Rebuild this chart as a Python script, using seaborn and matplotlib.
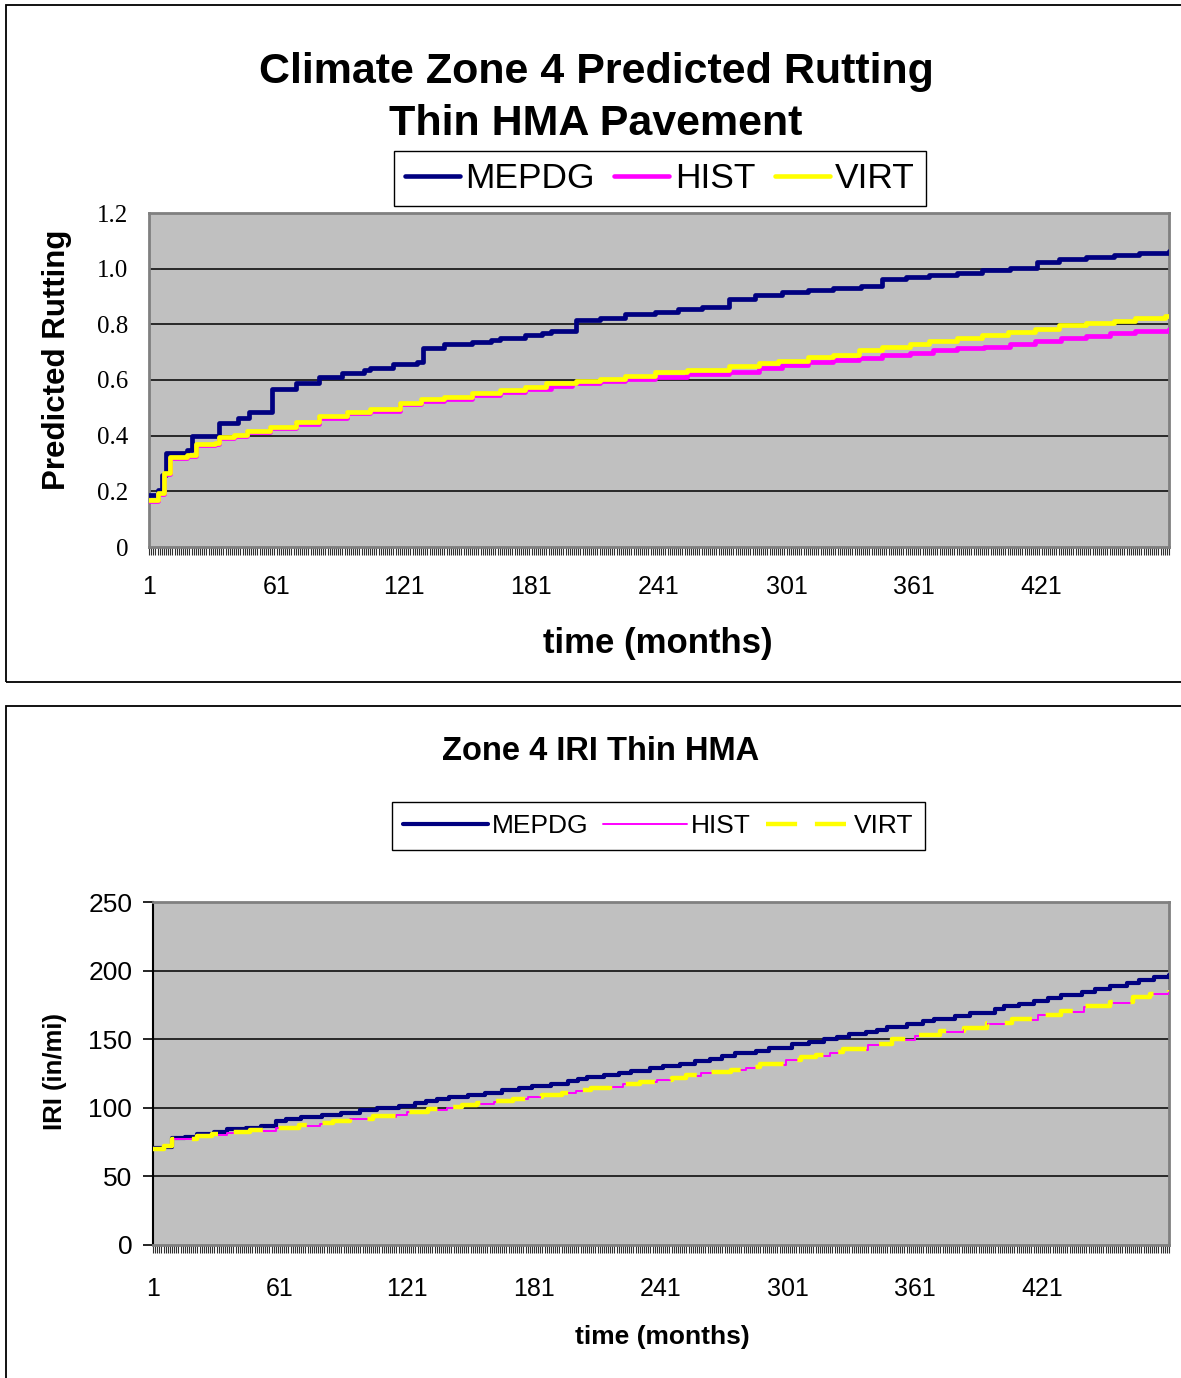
import numpy as np
import pandas as pd
import matplotlib
matplotlib.use("Agg")
import matplotlib.pyplot as plt
import seaborn as sns
from matplotlib.patches import Rectangle
from matplotlib.lines import Line2D

sns.set_style("white")
plt.rcParams['font.family'] = ['Liberation Sans', 'DejaVu Sans']
plt.rcParams['text.color'] = 'black'
plt.rcParams['axes.labelcolor'] = 'black'
plt.rcParams['xtick.color'] = 'black'
plt.rcParams['ytick.color'] = 'black'

# ---------------- data ----------------
series_names = ["MEPDG", "HIST", "VIRT"]
x_tick_months = [1, 61, 121, 181, 241, 301, 361, 421]
n_months = 481

# Rutting: step change points (month, value)
rut_mepdg_month = [1, 5, 7, 9, 19, 21, 34, 43, 48, 59, 70, 81, 92, 102, 105, 116, 127, 130, 140, 153,
                   162, 166, 178, 186, 190, 202, 213, 225, 239, 250, 261, 274, 286, 299, 311, 323,
                   336, 346, 357, 368, 381, 393, 406, 419, 429, 442, 455, 467, 481]
rut_mepdg_value = [0.187, 0.205, 0.26, 0.338, 0.349, 0.40, 0.445, 0.463, 0.486, 0.567, 0.59, 0.612,
                   0.626, 0.636, 0.643, 0.657, 0.663, 0.715, 0.729, 0.737, 0.745, 0.752, 0.761, 0.768,
                   0.776, 0.816, 0.824, 0.836, 0.846, 0.854, 0.862, 0.892, 0.906, 0.915, 0.923, 0.931,
                   0.939, 0.963, 0.970, 0.977, 0.986, 0.994, 1.001, 1.025, 1.034, 1.041, 1.049, 1.057,
                   1.062]

rut_hist_month = [1, 5, 8, 11, 19, 23, 32, 34, 41, 47, 58, 70, 81, 94, 105, 119, 129, 140, 153, 166,
                  178, 190, 200, 213, 225, 239, 254, 274, 288, 299, 311, 323, 335, 346, 359, 370, 381,
                  394, 406, 418, 430, 442, 453, 465, 481]
rut_hist_value = [0.167, 0.192, 0.262, 0.320, 0.328, 0.366, 0.370, 0.392, 0.398, 0.413, 0.428, 0.443,
                  0.465, 0.480, 0.490, 0.512, 0.524, 0.533, 0.547, 0.557, 0.568, 0.578, 0.588, 0.597,
                  0.604, 0.612, 0.622, 0.630, 0.644, 0.654, 0.664, 0.672, 0.678, 0.690, 0.698, 0.708,
                  0.714, 0.720, 0.729, 0.741, 0.750, 0.758, 0.768, 0.776, 0.783]

rut_virt_month = [1, 5, 8, 11, 19, 23, 32, 34, 41, 47, 58, 70, 81, 94, 105, 119, 129, 140, 153, 166,
                  178, 188, 202, 213, 225, 239, 254, 274, 288, 297, 311, 323, 335, 346, 359, 368, 381,
                  393, 405, 418, 429, 442, 455, 465, 479, 481]
rut_virt_value = [0.169, 0.194, 0.266, 0.323, 0.331, 0.370, 0.373, 0.396, 0.402, 0.417, 0.432, 0.448,
                  0.471, 0.486, 0.496, 0.519, 0.531, 0.540, 0.554, 0.564, 0.574, 0.588, 0.596, 0.605,
                  0.614, 0.628, 0.636, 0.652, 0.660, 0.670, 0.682, 0.690, 0.706, 0.720, 0.729, 0.739,
                  0.752, 0.763, 0.773, 0.783, 0.798, 0.806, 0.813, 0.822, 0.830, 0.830]

# IRI: step change points (month, value)
iri_mepdg_month = [1, 6, 10, 16, 22, 30, 36, 45, 52, 59, 64, 71, 81, 90, 99, 107, 117, 125, 130, 135,
                   141, 150, 158, 166, 174, 180, 189, 197, 202, 206, 214, 221, 227, 236, 242, 250, 257,
                   264, 270, 276, 286, 292, 303, 311, 318, 324, 330, 338, 343, 348, 357, 365, 370, 380,
                   387, 399, 403, 410, 417, 424, 430, 440, 446, 453, 461, 467, 474, 481]
iri_mepdg_value = [70.5, 71.7, 77.8, 78.9, 80.9, 82.6, 84.3, 85.5, 87.0, 90.6, 91.8, 93.3, 95.0, 96.4,
                   98.2, 99.6, 101.3, 103.3, 105.0, 106.4, 107.9, 109.3, 111.0, 112.7, 114.4, 115.9,
                   117.6, 119.3, 120.8, 122.2, 123.9, 125.6, 127.0, 128.8, 130.5, 132.2, 134.1, 135.8,
                   137.8, 139.7, 141.6, 143.4, 146.5, 148.2, 149.9, 151.8, 153.6, 155.2, 156.9, 158.7,
                   161.1, 163.0, 164.9, 166.9, 169.3, 172.0, 174.0, 175.9, 178.1, 180.3, 182.2, 184.6,
                   186.6, 188.8, 190.7, 193.1, 195.1, 196.8]

iri_hist_month = [1, 6, 10, 22, 29, 36, 47, 59, 70, 80, 86, 94, 105, 116, 121, 131, 140, 147, 154,
                  162, 171, 178, 185, 194, 201, 208, 217, 223, 231, 239, 246, 253, 260, 274, 281, 288,
                  300, 307, 314, 321, 327, 339, 350, 361, 373, 384, 395, 407, 419, 430, 441, 453, 464,
                  472, 481]
iri_hist_value = [69.8, 71.5, 77.0, 78.9, 80.2, 81.9, 83.3, 85.0, 86.7, 88.2, 89.9, 91.6, 93.3, 95.0,
                  96.7, 98.4, 99.9, 101.3, 102.8, 104.5, 106.2, 107.6, 108.8, 110.6, 112.5, 114.2,
                  115.4, 117.1, 118.6, 120.0, 121.5, 123.5, 125.6, 127.5, 129.3, 131.2, 134.8, 136.3,
                  138.0, 140.0, 142.1, 145.8, 149.4, 152.3, 155.5, 157.9, 161.1, 164.0, 167.6, 170.0,
                  173.7, 176.6, 180.5, 182.8, 185.3]

iri_virt_month = [1, 6, 10, 22, 29, 36, 47, 59, 70, 80, 86, 94, 105, 116, 121, 131, 140, 147, 154,
                  162, 171, 178, 185, 194, 201, 208, 217, 223, 231, 239, 246, 253, 260, 274, 281, 288,
                  300, 307, 314, 321, 327, 339, 350, 361, 373, 384, 395, 407, 419, 430, 441, 453, 464,
                  472, 481]
iri_virt_value = [70.2, 72.0, 77.5, 79.3, 80.6, 82.3, 83.7, 85.4, 87.1, 88.6, 90.3, 92.0, 93.7, 95.4,
                  97.1, 98.8, 100.3, 101.7, 103.2, 104.9, 106.6, 108.0, 109.2, 111.0, 112.9, 114.6,
                  115.8, 117.5, 119.0, 120.4, 121.9, 123.9, 126.0, 127.9, 129.7, 131.6, 135.2, 136.7,
                  138.4, 140.4, 142.5, 146.2, 149.8, 152.7, 155.9, 158.3, 161.5, 164.4, 168.0, 170.4,
                  174.1, 177.0, 180.9, 183.2, 185.7]

rut_y_ticks = [0, 0.2, 0.4, 0.6, 0.8, 1.0, 1.2]
rut_y_labels = ["0", "0.2", "0.4", "0.6", "0.8", "1.0", "1.2"]
iri_y_ticks = [0, 50, 100, 150, 200, 250]

colors = {"MEPDG": "#000080", "HIST": "#FF00FF", "VIRT": "#FFFF00"}

# ---------------- figure ----------------
W, H = 1181, 1378
fig = plt.figure(figsize=(W / 100, H / 100), dpi=100)


def fx(px):
    return px / W


def fy(py):
    return 1 - py / H


# chart area borders
fig.add_artist(Rectangle((fx(6), fy(682)), fx(1200) - fx(6), fy(5) - fy(682),
                         transform=fig.transFigure, fill=False, ec="black", lw=1.3))
fig.add_artist(Rectangle((fx(6), fy(1400)), fx(1200) - fx(6), fy(706) - fy(1400),
                         transform=fig.transFigure, fill=False, ec="black", lw=1.3))

ax1 = fig.add_axes([fx(149), fy(547), fx(1169) - fx(149), fy(213) - fy(547)])
ax2 = fig.add_axes([fx(153), fy(1245), fx(1169) - fx(153), fy(902) - fy(1245)])


def draw(ax, months, values, color, lw, dashes=None):
    df = pd.DataFrame({"month": months, "value": values})
    kw = {}
    if dashes is not None:
        kw["linestyle"] = (0, dashes)
    sns.lineplot(data=df, x="month", y="value", ax=ax, color=color, linewidth=lw,
                 drawstyle="steps-post", estimator=None, sort=False, legend=False, zorder=3, **kw)


# top chart
draw(ax1, rut_mepdg_month, rut_mepdg_value, colors["MEPDG"], 3.4)
draw(ax1, rut_hist_month, rut_hist_value, colors["HIST"], 3.4)
draw(ax1, rut_virt_month, rut_virt_value, colors["VIRT"], 3.4)

# bottom chart
draw(ax2, iri_mepdg_month, iri_mepdg_value, colors["MEPDG"], 3.0)
draw(ax2, iri_hist_month, iri_hist_value, colors["HIST"], 1.4)
draw(ax2, iri_virt_month, iri_virt_value, colors["VIRT"], 3.2, dashes=(7, 4))

for ax in (ax1, ax2):
    ax.set_facecolor("#C0C0C0")
    ax.set_xlim(1, n_months)
    ax.set_xlabel("")
    ax.set_ylabel("")
    ax.set_axisbelow(True)
    ax.grid(False)
    ax.set_xticks(x_tick_months)
    ax.set_xticklabels([str(m) for m in x_tick_months], fontsize=18)
    ax.set_xticks(np.arange(1, n_months + 1), minor=True)
    ax.tick_params(axis="x", which="both", direction="out", length=6, width=0.8, color="#303030",
                   bottom=True)
    for yv in (rut_y_ticks if ax is ax1 else iri_y_ticks)[1:-1]:
        ax.axhline(yv, color="black", lw=1.1, zorder=1)
    for s in ax.spines.values():
        s.set_color("#808080")
        s.set_linewidth(2)

ax1.tick_params(axis="x", which="major", pad=14)
ax1.set_ylim(0, 1.2)
ax1.set_yticks(rut_y_ticks)
ax1.set_yticklabels(rut_y_labels, fontsize=18, fontfamily="Liberation Serif")
ax1.tick_params(axis="y", length=0, pad=15)

ax2.tick_params(axis="x", which="major", pad=17)
ax2.set_ylim(0, 250)
ax2.set_yticks(iri_y_ticks)
ax2.set_yticklabels([str(v) for v in iri_y_ticks], fontsize=19)
ax2.tick_params(axis="y", direction="out", length=7, width=1.2, color="black", pad=8, left=True)
ax2.spines["left"].set_color("black")
ax2.spines["left"].set_linewidth(1.5)

# texts
fig.text(fx(596), fy(72), "Climate Zone 4 Predicted Rutting", ha="center", va="center",
         fontsize=31, fontweight="bold")
fig.text(fx(596), fy(124), "Thin HMA Pavement", ha="center", va="center",
         fontsize=31, fontweight="bold")
fig.text(fx(57), fy(360), "Predicted Rutting", ha="center", va="center", rotation=90,
         fontsize=22.5, fontweight="bold")
fig.text(fx(658), fy(643), "time (months)", ha="center", va="center", fontsize=25, fontweight="bold")

fig.text(fx(601), fy(751), "Zone 4 IRI Thin HMA", ha="center", va="center", fontsize=23.5,
         fontweight="bold")
fig.text(fx(55), fy(1071), "IRI (in/mi)", ha="center", va="center", rotation=90, fontsize=18.5,
         fontweight="bold")
fig.text(fx(662), fy(1337), "time (months)", ha="center", va="center", fontsize=19, fontweight="bold")

# legends
h1 = [Line2D([], [], color=colors[n], lw=3.3) for n in series_names]
leg1 = fig.legend(h1, series_names, loc="center", bbox_to_anchor=(fx(660), fy(178.5)),
                  bbox_transform=fig.transFigure, ncol=3, fontsize=25.5, frameon=True,
                  fancybox=False, edgecolor="black", framealpha=1, handlelength=1.55,
                  handletextpad=0.15, columnspacing=0.55, borderpad=0.32, borderaxespad=0)
leg1.get_frame().set_linewidth(1.0)

h2 = [Line2D([], [], color=colors["MEPDG"], lw=3.0),
      Line2D([], [], color=colors["HIST"], lw=1.4),
      Line2D([], [], color=colors["VIRT"], lw=3.2, linestyle=(0, (7, 4)))]
leg2 = fig.legend(h2, series_names, loc="center", bbox_to_anchor=(fx(658.5), fy(826)),
                  bbox_transform=fig.transFigure, ncol=3, fontsize=19, frameon=True,
                  fancybox=False, edgecolor="black", framealpha=1, handlelength=3.2,
                  handletextpad=0.15, columnspacing=0.55, borderpad=0.45, borderaxespad=0)
leg2.get_frame().set_linewidth(1.0)

fig.savefig("out.png", dpi=100)
